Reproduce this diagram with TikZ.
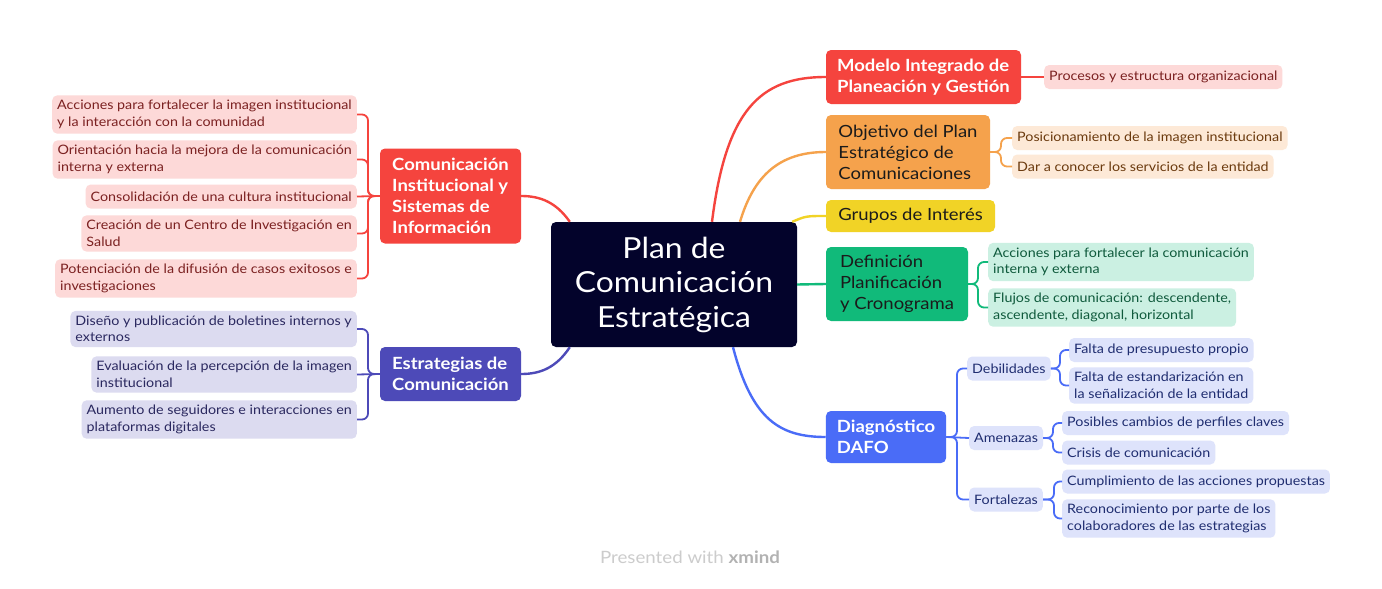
\documentclass[tikz,border=0pt]{standalone}
\usepackage{fontspec}
\setmainfont{Lato}[FakeStretch=1.1]
\usepackage{xcolor}
\usetikzlibrary{positioning, calc}
\definecolor{plannavy}{HTML}{03032B}
\definecolor{mred}{HTML}{F5443E}
\definecolor{morange}{HTML}{F5A24C}
\definecolor{myellow}{HTML}{F1D326}
\definecolor{mgreen}{HTML}{11BA7A}
\definecolor{mblue}{HTML}{4A6CF7}
\definecolor{mpurple}{HTML}{4D4AB8}
\definecolor{lred}{HTML}{FDD9D8}
\definecolor{lorange}{HTML}{FDE9D7}
\definecolor{lgreen}{HTML}{CBF0E2}
\definecolor{lblue}{HTML}{DEE3FB}
\definecolor{lpurple}{HTML}{DCDBF0}
\definecolor{tred}{HTML}{7B2121}
\definecolor{torange}{HTML}{6B3A0E}
\definecolor{tgreen}{HTML}{0F5A3C}
\definecolor{tblue}{HTML}{1F2D70}
\definecolor{tpurple}{HTML}{2A285F}
\definecolor{darktext}{HTML}{1B1B1B}

\begin{document}
\begin{tikzpicture}[x=1pt, y=-1pt,
      main/.style={rounded corners=5pt, align=left, font=\fontsize{16.8}{21}\selectfont, inner xsep=11pt, inner ysep=6pt},
      leaf/.style={rounded corners=5pt, align=left, font=\fontsize{13}{16.5}\selectfont, inner xsep=5pt, inner ysep=5pt, minimum height=24pt},
      link/.style={line width=2.4pt},
      fork/.style={line width=1.8pt, rounded corners=6pt}
    ]
      \fill[white] (0,0) rectangle (1382,589);
      \useasboundingbox (0,0) rectangle (1382,589);
      \node[main, fill=plannavy, text=white, align=center, font=\fontsize{29}{34.5}\selectfont, minimum width=246pt, minimum height=125pt] (plan) at (674,284.5) {Plan de\\Comunicación\\Estratégica};
      \node[main, fill=mred, text=white, font=\fontsize{16.8}{21}\selectfont\bfseries, minimum width=195pt, minimum height=54pt] (mig) at (923.5,77) {Modelo Integrado de\\Planeación y Gestión};
      \node[main, fill=morange, text=darktext, minimum width=164pt, minimum height=74pt] (obj) at (908,152) {Objetivo del Plan\\Estratégico de\\Comunicaciones};
      \node[main, fill=myellow, text=darktext, minimum width=169pt, minimum height=32pt] (grupos) at (910.5,216) {Grupos de Interés};
      \node[main, fill=mgreen, text=darktext, minimum width=142pt, minimum height=74pt] (def) at (897,284) {Definición\\Planificación\\y Cronograma};
      \node[main, fill=mblue, text=white, font=\fontsize{16.8}{21}\selectfont\bfseries, minimum width=120pt, minimum height=52pt] (dafo) at (886,437) {Diagnóstico\\DAFO};
      \node[main, fill=mred, text=white, font=\fontsize{16.8}{21}\selectfont\bfseries, minimum width=141pt, minimum height=95pt] (ci) at (450.5,196) {Comunicación\\Institucional y\\Sistemas de\\Información};
      \node[main, fill=mpurple, text=white, font=\fontsize{16.8}{21}\selectfont\bfseries, minimum width=141pt, minimum height=54pt] (ei) at (450.5,374) {Estrategias de\\Comunicación};

      \node[leaf, fill=lred, text=tred, anchor=west] (mig1) at (1044,77) {Procesos y estructura organizacional};
      \node[leaf, fill=lorange, text=torange, anchor=west] (obj1) at (1012,138) {Posicionamiento de la imagen institucional};
      \node[leaf, fill=lorange, text=torange, anchor=west] (obj2) at (1012,166.5) {Dar a conocer los servicios de la entidad};
      \node[leaf, fill=lgreen, text=tgreen, anchor=west] (def1) at (988,262) {Acciones para fortalecer la comunicación\\interna y externa};
      \node[leaf, fill=lgreen, text=tgreen, anchor=west] (def2) at (988,307.5) {Flujos de comunicación: descendente,\\ascendente, diagonal, horizontal};
      \node[leaf, fill=lblue, text=tblue, anchor=west] (deb) at (967,368.5) {Debilidades};
      \node[leaf, fill=lblue, text=tblue, anchor=west] (ame) at (969,438) {Amenazas};
      \node[leaf, fill=lblue, text=tblue, anchor=west] (fort) at (969,499.5) {Fortalezas};
      \node[leaf, fill=lblue, text=tblue, anchor=west] (deb1) at (1069,350) {Falta de presupuesto propio};
      \node[leaf, fill=lblue, text=tblue, anchor=west] (deb2) at (1069,385.5) {Falta de estandarización en\\la señalización de la entidad};
      \node[leaf, fill=lblue, text=tblue, anchor=west] (ame1) at (1062,423) {Posibles cambios de perfiles claves};
      \node[leaf, fill=lblue, text=tblue, anchor=west] (ame2) at (1062,452.5) {Crisis de comunicación};
      \node[leaf, fill=lblue, text=tblue, anchor=west] (fort1) at (1062,481.5) {Cumplimiento de las acciones propuestas};
      \node[leaf, fill=lblue, text=tblue, anchor=west] (fort2) at (1062,518.5) {Reconocimiento por parte de los\\colaboradores de las estrategias};
      \node[leaf, fill=lred, text=tred, anchor=east] (ci1) at (357,114.5) {Acciones para fortalecer la imagen institucional\\y la interacción con la comunidad};
      \node[leaf, fill=lred, text=tred, anchor=east] (ci2) at (357,159.5) {Orientación hacia la mejora de la comunicación\\interna y externa};
      \node[leaf, fill=lred, text=tred, anchor=east] (ci3) at (357,196.5) {Consolidación de una cultura institucional};
      \node[leaf, fill=lred, text=tred, anchor=east] (ci4) at (357,233.5) {Creación de un Centro de Investigación en\\Salud};
      \node[leaf, fill=lred, text=tred, anchor=east] (ci5) at (357,278.5) {Potenciación de la difusión de casos exitosos e\\investigaciones};
      \node[leaf, fill=lpurple, text=tpurple, anchor=east] (ei1) at (357,329) {Diseño y publicación de boletines internos y\\externos};
      \node[leaf, fill=lpurple, text=tpurple, anchor=east] (ei2) at (357,374.5) {Evaluación de la percepción de la imagen\\institucional};
      \node[leaf, fill=lpurple, text=tpurple, anchor=east] (ei3) at (357,419.5) {Aumento de seguidores e interacciones en\\plataformas digitales};

      \draw[link, mred] ([xshift=38pt]plan.north) .. controls (726,110) and (760,77) .. (mig.west);
      \draw[link, morange] ([xshift=66pt]plan.north) .. controls (754,175) and (780,152) .. (obj.west);
      \draw[link, myellow] ([xshift=-5pt]plan.north east) .. controls (806,216) .. (grupos.west);
      \draw[link, mgreen] (plan.east) -- (def.west);
      \draw[link, mblue] ([xshift=59pt]plan.south) .. controls (752,420) and (780,437) .. (dafo.west);
      \draw[link, mred] ([xshift=19pt]plan.north west) .. controls (556,202) and (540,196) .. (ci.east);
      \draw[link, mpurple] ([xshift=19pt]plan.south west) .. controls (556,368) and (540,374) .. (ei.east);

      \coordinate (objf) at (1001,152);
      \coordinate (deff) at (978,284);
      \coordinate (dafof) at (957,437);
      \coordinate (debf) at (1060,368.5);
      \coordinate (amef) at (1053,438);
      \coordinate (fortf) at (1054,499.5);
      \coordinate (cif) at (368,196);
      \coordinate (eif) at (368,374);
      \draw[fork, mred] (mig.east) -- (mig1.west);
      \draw[fork, morange] (obj.east) -- (objf) |- (obj1.west);
      \draw[fork, morange] (obj.east) -- (objf) |- (obj2.west);
      \draw[fork, mgreen] (def.east) -- (deff) |- (def1.west);
      \draw[fork, mgreen] (def.east) -- (deff) |- (def2.west);
      \draw[fork, mblue] (dafo.east) -- (dafof) |- (deb.west);
      \draw[fork, mblue] (dafo.east) -- (ame.west);
      \draw[fork, mblue] (dafo.east) -- (dafof) |- (fort.west);
      \draw[fork, mblue] (deb.east) -- (debf) |- (deb1.west);
      \draw[fork, mblue] (deb.east) -- (debf) |- (deb2.west);
      \draw[fork, mblue] (ame.east) -- (amef) |- (ame1.west);
      \draw[fork, mblue] (ame.east) -- (amef) |- (ame2.west);
      \draw[fork, mblue] (fort.east) -- (fortf) |- (fort1.west);
      \draw[fork, mblue] (fort.east) -- (fortf) |- (fort2.west);
      \draw[fork, mred] (ci.west) -- (cif) |- (ci1.east);
      \draw[fork, mred] (ci.west) -- (cif) |- (ci2.east);
      \draw[fork, mred] (ci.west) -- (ci3.east);
      \draw[fork, mred] (ci.west) -- (cif) |- (ci4.east);
      \draw[fork, mred] (ci.west) -- (cif) |- (ci5.east);
      \draw[fork, mpurple] (ei.west) -- (eif) |- (ei1.east);
      \draw[fork, mpurple] (ei.west) -- (ei2.east);
      \draw[fork, mpurple] (ei.west) -- (eif) |- (ei3.east);

      \node[font=\fontsize{17}{20}\selectfont, text=gray!40] (credit) at (690,557) {Presented with \textbf{\color{gray!60}xmind}};
    \end{tikzpicture}
\end{document}
